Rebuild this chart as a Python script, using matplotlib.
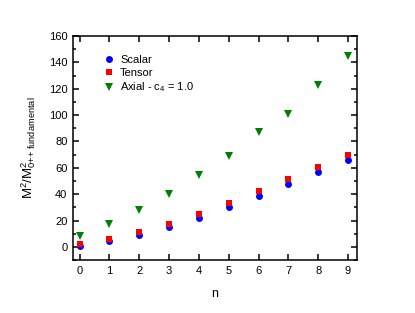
import matplotlib
matplotlib.use('Agg')
import matplotlib.pyplot as plt
from matplotlib.ticker import MultipleLocator

plt.rcParams['font.family'] = ['Liberation Sans', 'DejaVu Sans']
plt.rcParams['mathtext.fontset'] = 'custom'
plt.rcParams['mathtext.rm'] = 'Liberation Sans'
plt.rcParams['mathtext.it'] = 'Liberation Sans'

# data
n = [0, 1, 2, 3, 4, 5, 6, 7, 8, 9]
scalar = [0.5, 4.3, 9.1, 15.4, 22.2, 30.0, 38.6, 48.0, 57.0, 65.7]
tensor = [2.5, 6.3, 11.4, 17.7, 25.3, 33.3, 42.4, 51.5, 60.9, 70.0]
axial = [8.6, 17.7, 28.3, 40.5, 54.5, 69.3, 86.8, 100.9, 122.7, 145.2]

fig = plt.figure(figsize=(4.15, 3.13), dpi=100)
ax = fig.add_axes([0.176, 0.169, 0.684, 0.716])

ax.plot(n, scalar, 'o', color='#0000ff', ms=5, mew=0, label='Scalar')
ax.plot(n, tensor, 's', color='#ff0000', ms=4.5, mew=0, label='Tensor')
ax.plot(n, axial, 'v', color='#008000', ms=5.5, mew=0, label='Axial - c$_4$ = 1.0')

ax.set_xlim(-0.22, 9.3)
ax.set_ylim(-10, 160)
ax.xaxis.set_major_locator(MultipleLocator(1))
ax.yaxis.set_major_locator(MultipleLocator(20))
ax.yaxis.set_minor_locator(MultipleLocator(10))
ax.tick_params(which='both', direction='in', top=True, right=True,
               labelsize=8, width=1.1)
ax.tick_params(which='major', length=4, pad=4)
ax.tick_params(which='minor', length=2)
for s in ax.spines.values():
    s.set_linewidth(1.1)

ax.set_xlabel('n', fontsize=9, labelpad=9)
ax.set_ylabel('M$^2$/M$^2_{0{+}{+}\\ \\mathrm{fundamental}}$', fontsize=9.5,
              labelpad=8)

ax.legend(loc='upper left', bbox_to_anchor=(0.068, 0.96), frameon=False,
          fontsize=8, handletextpad=0.4, labelspacing=0.25,
          handlelength=1.2)

plt.savefig('out.png', dpi=100)
